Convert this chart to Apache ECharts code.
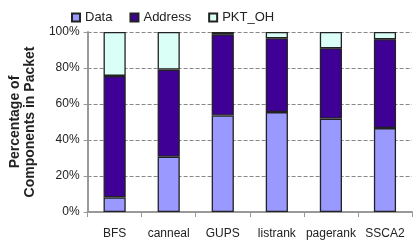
<!DOCTYPE html>
<html><head><meta charset="utf-8">
<script src="https://cdn.jsdelivr.net/npm/echarts@6/dist/echarts.min.js"></script>
<style>html,body{margin:0;padding:0;background:#fff}#c{width:415px;height:249px}</style>
</head><body><div id="c"></div>
<script>
const categories = ['BFS','canneal','GUPS','listrank','pagerank','SSCA2'];
const dataPct = [8.1, 30.7, 53.6, 55.5, 51.9, 46.6];
const addressPct = [67.5, 48.4, 45.1, 41.0, 39.1, 49.4];
const pktPct = [24.4, 20.9, 1.3, 3.5, 9.0, 4.0];
const yTicks = [0, 20, 40, 60, 80, 100];

const font = '"Liberation Sans Narrow", "Liberation Sans", sans-serif';
const chart = echarts.init(document.getElementById('c'));
const mk = (name, vals, color) => ({
  name, type: 'bar', stack: 'all', data: vals, barCategoryGap: '59%',
  itemStyle: { color, borderColor: '#222', borderWidth: 1.3 }
});
chart.setOption({
  animation: false,
  textStyle: { fontFamily: font },
  legend: {
    top: 6, left: 66, itemWidth: 8, itemHeight: 8, itemGap: 17,
    icon: 'rect',
    textStyle: { fontSize: 13, color: '#222', fontFamily: font },
    data: ['Data','Address','PKT_OH']
  },
  grid: { left: 75, right: 3, top: 32, bottom: 37 },
  xAxis: {
    type: 'category', data: categories,
    axisLine: { lineStyle: { color: '#999', width: 2 } },
    axisTick: { show: true, length: 5, lineStyle: { color: '#999' } },
    axisLabel: { fontSize: 12, color: '#222', margin: 16, interval: 0, fontFamily: font }
  },
  yAxis: {
    type: 'value', min: 0, max: 100, interval: 20,
    name: 'Percentage of\nComponents in Packet', nameLocation: 'middle', nameGap: 46,
    nameTextStyle: { fontSize: 14, fontWeight: 'bold', color: '#222', lineHeight: 15, fontFamily: '"Liberation Sans", sans-serif' },
    axisLine: { show: true, lineStyle: { color: '#999', width: 2 } },
    axisTick: { show: true, length: 4, lineStyle: { color: '#999' } },
    axisLabel: { fontSize: 12, color: '#222', margin: 8, fontFamily: font,
      formatter: v => yTicks.includes(v) ? v + '%' : '' },
    splitLine: { lineStyle: { color: '#888', type: [4, 2] } }
  },
  series: [
    mk('Data', dataPct, '#9999FF'),
    mk('Address', addressPct, '#3F0096'),
    mk('PKT_OH', pktPct, '#D9FFF7')
  ]
});
</script></body></html>
